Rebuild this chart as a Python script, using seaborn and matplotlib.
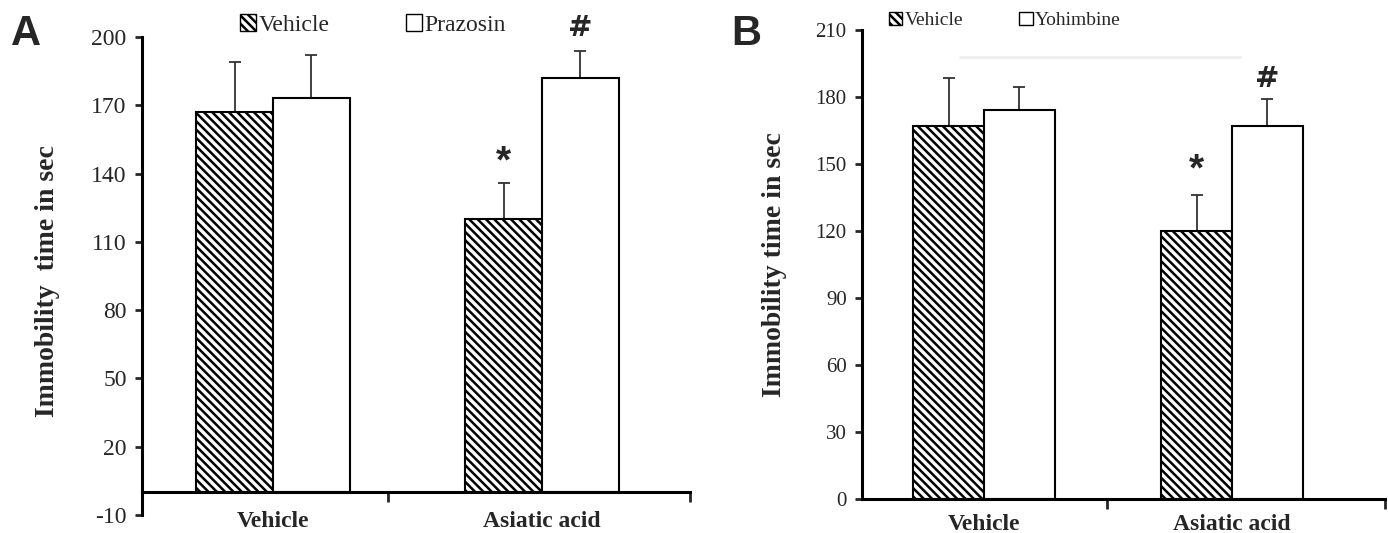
import numpy as np
import pandas as pd
import matplotlib
matplotlib.use("Agg")
import matplotlib.pyplot as plt
from matplotlib.patches import Patch
from matplotlib.lines import Line2D
import seaborn as sns

# Data (means and upper error bars)
groups = ['Vehicle', 'Asiatic acid']

a_treatments = ['Vehicle', 'Prazosin']
a_vehicle_mean = [167, 120]
a_vehicle_err = [22, 16]
a_prazosin_mean = [173, 182]
a_prazosin_err = [19, 12]

b_treatments = ['Vehicle', 'Yohimbine']
b_vehicle_mean = [167, 120]
b_vehicle_err = [21.5, 16]
b_yohimbine_mean = [174, 167]
b_yohimbine_err = [10.5, 12]

a_yticks = [-10, 20, 50, 80, 110, 140, 170, 200]
b_yticks = [0, 30, 60, 90, 120, 150, 180, 210]

sns.set_style('white')
plt.rcParams['font.family'] = ['Liberation Serif', 'DejaVu Serif']
plt.rcParams['hatch.linewidth'] = 1.8
plt.rcParams['hatch.color'] = 'black'

HATCH = '\\\\\\\\'
SANS = ['Liberation Sans', 'DejaVu Sans']


def make_frame(treatments, first_mean, second_mean):
    return pd.DataFrame({
        'group': groups * 2,
        'treatment': [treatments[0]] * 2 + [treatments[1]] * 2,
        'value': list(first_mean) + list(second_mean),
    })


def draw_panel(ax, df, treatments, errs, yticks, ylim, xlim, mid_tick,
               label_y, tick_size):
    sns.barplot(data=df, x='group', y='value', hue='treatment', order=groups,
                hue_order=treatments, width=0.57, palette=['white', 'white'],
                edgecolor='black', linewidth=1.5, errorbar=None, legend=False,
                ax=ax, zorder=2)
    for bar in ax.containers[0]:
        bar.set_hatch(HATCH)

    centers = []
    for cont, err in zip(ax.containers, errs):
        xs = [b.get_x() + b.get_width() / 2 for b in cont]
        tops = [b.get_height() for b in cont]
        ax.errorbar(xs, tops, yerr=[np.zeros(len(err)), err], fmt='none',
                    ecolor='#333333', elinewidth=1.3, capsize=4, capthick=1.3,
                    zorder=1)
        centers.append(list(zip(xs, tops, err)))

    ax.set_ylim(*ylim)
    ax.set_yticks(yticks)
    ax.set_yticklabels([str(t) for t in yticks], fontsize=tick_size)
    ax.set_xlim(*xlim)
    ax.set_xticks([mid_tick, xlim[1]])
    ax.set_xticklabels(['', ''])
    ax.tick_params(axis='x', which='major', direction='out', length=7, width=2,
                   bottom=True)
    ax.tick_params(axis='y', direction='out', length=5, width=2, left=True,
                   pad=6)
    ax.set_xlabel('')
    # category names under the axis
    for i, name in enumerate(groups):
        ax.text(i, label_y, name, transform=ax.get_xaxis_transform(),
                ha='center', va='center', fontsize=17, fontweight='bold',
                clip_on=False)
    sns.despine(ax=ax)
    for side in ['left', 'bottom']:
        ax.spines[side].set_linewidth(2.2)
        ax.spines[side].set_color('black')
    ax.spines['bottom'].set_position(('data', 0))
    return centers


fig = plt.figure(figsize=(13.88, 5.33), dpi=100)
ax_a = fig.add_axes([0.1023, 0.0338, 0.3948, 0.8968])
ax_b = fig.add_axes([0.6210, 0.0638, 0.3768, 0.8799])

df_a = make_frame(a_treatments, a_vehicle_mean, a_prazosin_mean)
cen_a = draw_panel(ax_a, df_a, a_treatments, [a_vehicle_err, a_prazosin_err],
                   a_yticks, (-10, 200), (-0.487, 1.55), 0.428, -0.013, 17)
ax_a.set_ylabel('Immobility  time in sec', fontsize=20, fontweight='bold')
ax_a.yaxis.set_label_coords(-0.15, 0.49)

df_b = make_frame(b_treatments, b_vehicle_mean, b_yohimbine_mean)
cen_b = draw_panel(ax_b, df_b, b_treatments, [b_vehicle_err, b_yohimbine_err],
                   b_yticks, (0, 210), (-0.492, 1.617), 0.496, -0.055, 15)
ax_b.set_ylabel('Immobility time in sec', fontsize=20, fontweight='bold')
ax_b.yaxis.set_label_coords(-0.143, 0.5)

# significance marks on the Asiatic acid bars
for ax, cen, off_star, off_hash in [(ax_a, cen_a, 9, 10), (ax_b, cen_b, 11, 9)]:
    x, top, err = cen[0][1]
    ax.text(x, top + err + off_star, '*', ha='center', va='center',
            fontsize=28, fontweight='bold', family=SANS)
    x, top, err = cen[1][1]
    ax.text(x, top + err + off_hash, '#', ha='center', va='center',
            fontsize=21, fontweight='bold', family=['DejaVu Sans'])

# legends
for ax, names, anchor, fs, colsp in [(ax_a, a_treatments, (0.2687, 0.953), 17, 3.2),
                                     (ax_b, b_treatments, (0.724, 0.962), 14, 2.9)]:
    handles = [Patch(facecolor='white', edgecolor='black', hatch=HATCH, lw=1),
               Patch(facecolor='white', edgecolor='black', lw=1)]
    ax.legend(handles, names, loc='center', bbox_to_anchor=anchor,
              bbox_transform=fig.transFigure, ncol=2, frameon=False,
              handlelength=0.68, handleheight=0.68, handletextpad=0.12,
              columnspacing=colsp, fontsize=fs)

# faint line left over under legend in panel B
fig.add_artist(Line2D([960 / 1388, 1240 / 1388], [1 - 57 / 533, 1 - 57 / 533],
                      color='#eeeeee', lw=2, transform=fig.transFigure))

fig.text(0.008, 0.936, 'A', fontsize=30, fontweight='bold', family=SANS,
         va='center')
fig.text(0.527, 0.936, 'B', fontsize=30, fontweight='bold', family=SANS,
         va='center')

fig.savefig('out.png', dpi=100)
